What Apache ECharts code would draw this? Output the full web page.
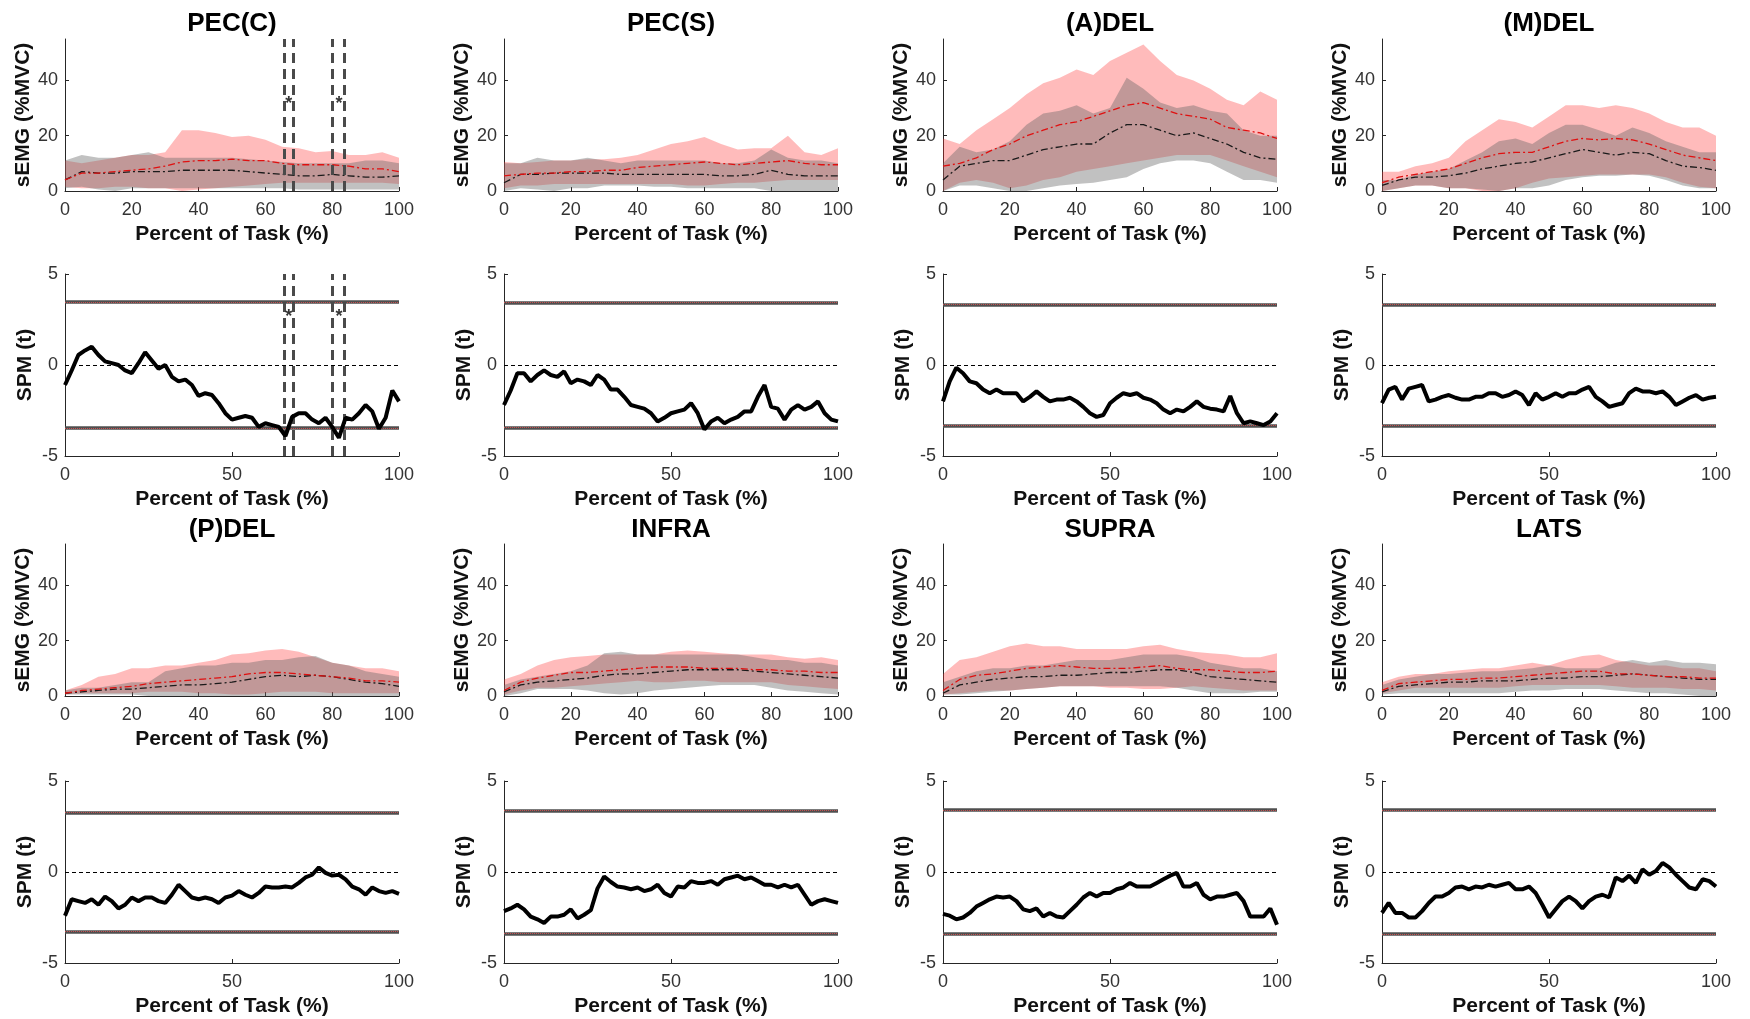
<!DOCTYPE html>
<html>
<head>
<meta charset="utf-8">
<script src="https://cdn.jsdelivr.net/npm/echarts@6/dist/echarts.min.js"></script>
<style>
  html, body { margin: 0; padding: 0; background: #fff; }
  #chart { width: 1750px; height: 1019px; }
</style>
</head>
<body>
<div id="chart"></div>
<script>
var muscles = ['PEC(C)', 'PEC(S)', '(A)DEL', '(M)DEL', '(P)DEL', 'INFRA', 'SUPRA', 'LATS'];

var pct5 = [0, 5, 10, 15, 20, 25, 30, 35, 40, 45, 50, 55, 60, 65, 70, 75, 80, 85, 90, 95, 100];
var pct2 = [0, 2, 4, 6, 8, 10, 12, 14, 16, 18, 20, 22, 24, 26, 28, 30, 32, 34, 36, 38, 40, 42, 44, 46, 48, 50,
            52, 54, 56, 58, 60, 62, 64, 66, 68, 70, 72, 74, 76, 78, 80, 82, 84, 86, 88, 90, 92, 94, 96, 98, 100];

// sEMG, red group (mean +/- sd)
var redHi = [
  [11, 10, 11, 12, 13, 13, 14, 22, 22, 21, 19.5, 20, 18.5, 16, 15.5, 14, 14.5, 13, 13, 14, 12],
  [10.5, 10, 10.5, 11, 11, 11.5, 11.5, 12, 13, 15, 17, 18, 19.5, 17, 15, 15.5, 15.5, 20, 14, 13, 15.5],
  [19, 17, 22, 26, 30, 35, 39, 41, 44, 42, 47, 50, 53, 47, 42, 40, 37, 33, 31, 36, 33],
  [7, 7, 9, 10, 12, 18, 22, 26, 25, 23, 27, 31, 31, 30, 31, 30, 28, 25, 23, 23, 20],
  [2, 4, 7, 8, 10, 10, 11, 11, 12, 13, 15, 15.5, 16.5, 17, 16, 14, 12, 11, 10, 10, 9],
  [6, 8, 11, 13, 14, 14.5, 15, 15, 15, 15, 16, 16.5, 16, 15.5, 15, 15, 15, 14, 13.5, 14, 13],
  [8, 13, 14, 16, 18, 19, 18, 18, 17, 17, 17, 17, 18, 18.5, 17, 16, 15.5, 15, 14, 14, 15.5],
  [5, 7, 8, 8, 9, 9.5, 10, 10, 11, 12, 11, 13, 14.5, 15, 13, 12, 11, 11, 10, 10, 9]
];
var redLo = [
  [1.5, 1, 1, 1.5, 1.5, 1, 1, 0, 0.5, 1, 1.5, 2, 2.5, 3, 3, 3, 3, 3, 3, 3, 2.5],
  [1, 2, 2, 2.5, 2.5, 2.5, 2.5, 2.5, 2.5, 2.5, 2.5, 2, 2, 2.5, 3, 3, 3.5, 4, 4, 4, 4],
  [0, 3, 4, 3, 1, 2, 4, 5, 7, 8, 9, 10, 11, 12, 13, 13, 13, 11, 9, 7, 5],
  [0, 1, 2, 2, 1, 1, 0, 0, 1, 3, 4.5, 5, 5.5, 6, 6, 6, 6, 5, 3, 1.5, 1],
  [0.5, 1, 1, 1, 1, 1.5, 1.5, 1.5, 1, 1, 0.5, 0.5, 1, 1.5, 1.5, 1.5, 1, 1, 1, 1, 1],
  [0.5, 2, 3, 3, 3.5, 4, 4.5, 5, 5.5, 5, 5, 5.5, 5.5, 5, 5, 5, 5, 4, 3.5, 3, 2.5],
  [0.5, 1, 1.5, 2, 2, 2.5, 3, 3.5, 3.5, 3.5, 3, 3, 2.5, 2.5, 3, 3.5, 3, 2.5, 2, 2, 2],
  [1, 2, 3, 3, 3, 3, 3, 3, 3.5, 4, 4, 4, 4, 4, 3.5, 3, 3, 3, 2.5, 2.5, 2]
];
var redMean = [
  [4, 6.5, 6.5, 7, 7.5, 8, 9, 10.5, 11, 11, 11.5, 11, 11, 10, 9.5, 9.5, 9.5, 9, 8, 8, 7],
  [5.5, 6, 6.5, 6.5, 7, 7, 7.5, 7.5, 8.5, 9, 9.5, 10, 10.5, 10, 9.5, 10, 10.5, 11, 10, 9.5, 9.5],
  [9, 10, 12, 15, 17, 20, 22, 24, 25, 27, 29, 31, 32, 30, 28, 27, 26, 23, 22, 21, 19],
  [3, 5, 6, 7, 8, 10, 12, 13.5, 14, 14, 16, 18, 19, 18.5, 19, 18.5, 17, 15, 13, 12, 11],
  [1, 2, 2.5, 3, 3.5, 4.5, 5, 5.5, 6, 6.5, 7, 8, 8.5, 8.5, 8, 7.5, 7, 6.5, 5.5, 5.5, 5],
  [2, 5, 6.5, 7.5, 8.5, 8.5, 9, 9.5, 10, 10.5, 10.5, 10.5, 10, 10, 10, 9.5, 9.5, 9, 9, 8.5, 8.5],
  [2, 6, 7.5, 8, 9, 10, 10.5, 11, 10.5, 10, 10, 10, 10.5, 11, 10, 9.5, 9.5, 9, 8.5, 8.5, 9],
  [2, 4.5, 5, 5.5, 6, 6, 6.5, 6.5, 7, 7.5, 8, 8.5, 9, 9, 8, 8, 7.5, 7, 7, 6.5, 6.5]
];

// sEMG, gray group (mean +/- sd)
var grayHi = [
  [11, 13, 12, 12, 13, 14, 12, 12, 12, 12, 12, 11.5, 11, 10.5, 10, 10, 10, 10, 11, 11, 10],
  [10, 10, 12, 11, 11, 12, 11, 10, 11, 11, 11, 11, 11, 10, 10, 11, 15, 12, 11, 11, 10],
  [10, 16, 14, 15, 18, 24, 28, 29, 31, 28, 30, 41, 37, 32, 30, 31, 29, 28, 22, 20, 20],
  [4, 4, 6, 7, 8, 11, 14, 18, 19, 17, 21, 24, 24, 22, 20, 23, 21, 18, 16, 14, 14],
  [2, 3, 3, 4, 5, 5, 9, 10, 11, 11, 12, 12, 13, 13, 14, 14.5, 12, 11, 9, 8, 7],
  [4, 6, 7, 8, 9, 11, 15.5, 16, 15, 15, 15, 15, 15, 15, 15, 14, 13, 13, 12, 12, 11],
  [5, 7, 9, 10, 10, 11, 11, 12, 13, 13, 13, 14, 15, 15, 15, 14, 12, 11, 10, 10, 9],
  [4, 6, 7, 8, 8, 8.5, 9, 9, 9.5, 10, 11, 10, 10, 10, 12, 13, 12, 13, 12, 12, 11.5]
];
var grayLo = [
  [1, 1.5, 0.5, 0, 1, 1, 1, 1, 1, 1, 1, 1, 1, 1, 0.5, 0.5, 0.5, 0.5, 0.5, 0.5, 0.5],
  [0, 1, 0.5, 0, 1, 1, 2, 2, 2, 1.5, 1.5, 1, 1, 1, 1, 1, 0, 0, 0, 0, 0],
  [0, 2, 2, 1, 0, 0, 1, 2, 2.5, 3, 4, 5, 8, 10, 11, 11, 10, 7, 4, 4, 3],
  [0, 1, 2, 2, 1, 1, 0.5, 0, 1, 1, 2, 4, 5, 5.5, 5.5, 6, 5.5, 4, 2, 1, 1],
  [0.5, 0.5, 0.5, 0.5, 0.5, 0, 0, 0, 0, 0, 0, 0, 0, 0, 0, 0, 0, 0, 0, 0, 0],
  [0, 1, 2.5, 2.5, 2.5, 2, 1, 0.5, 1, 2, 2.5, 3, 3.5, 4, 4, 4, 3, 2, 1.5, 1, 0.5],
  [0.5, 0.5, 1, 1.5, 2, 2.5, 3, 3.5, 3.5, 3.5, 3.5, 3.5, 3.5, 3.5, 3, 2, 1, 1, 1, 1.5, 1.5],
  [0.5, 1, 1, 1, 1, 1, 1, 1, 1.5, 2, 2, 2.5, 2.5, 2.5, 2, 1.5, 1, 1, 0.5, 0, 0]
];
var grayMean = [
  [4, 7, 6.5, 6.5, 7, 7, 7, 7.5, 7.5, 7.5, 7.5, 7, 6.5, 6, 5.5, 5.5, 6, 5.5, 5, 5, 5.5],
  [3, 6, 6, 6.5, 6.5, 6.5, 6.5, 6, 6, 6, 6, 6, 6, 5.5, 5.5, 6, 7.5, 6, 5.5, 5.5, 5.5],
  [4, 9, 10, 11, 11, 13, 15, 16, 17, 17, 21, 24, 24, 22, 20, 21, 19, 17, 14, 12, 11.5],
  [2, 4, 5, 5, 5.5, 6.5, 8, 9, 10, 10.5, 12, 13.5, 15, 14, 13, 14, 13.5, 11, 9, 8.5, 7.5],
  [1, 1.5, 2, 2.5, 2.5, 3, 3.5, 4, 4, 4.5, 5, 6, 7, 7.5, 7, 7.5, 7, 6, 5, 4.5, 3.5],
  [1.5, 4, 5, 5.5, 6, 6.5, 7.5, 8, 8, 8.5, 9, 9.5, 9.5, 9.5, 9.5, 9, 8.5, 8, 7.5, 7, 6.5],
  [1, 4, 5, 6, 6.5, 7, 7, 7.5, 7.5, 8, 8.5, 8.5, 9, 9.5, 9.5, 8.5, 7, 6.5, 6, 5.5, 5],
  [1.5, 3.5, 4, 4.5, 5, 5, 5.5, 5.5, 5.5, 6, 6.5, 6.5, 7, 7, 7.5, 8, 7.5, 7, 6.5, 6, 6]
];

// SPM t curves
var spmT = [
  [-1.1, -0.3, 0.55, 0.8, 1.0, 0.55, 0.2, 0.1, 0, -0.3, -0.45, 0.1, 0.7, 0.25, -0.2, 0, -0.65, -0.9, -0.8, -1.1,
   -1.7, -1.55, -1.65, -2.1, -2.65, -3.0, -2.9, -2.8, -2.9, -3.4, -3.2, -3.3, -3.4, -3.9, -2.85, -2.65, -2.65, -3.0,
   -3.2, -2.9, -3.4, -4.0, -2.9, -3.0, -2.65, -2.2, -2.55, -3.5, -2.9, -1.4, -2.0],
  [-2.2, -1.4, -0.45, -0.45, -0.9, -0.55, -0.3, -0.55, -0.65, -0.35, -1.0, -0.8, -0.9, -1.1, -0.55, -0.8, -1.35,
   -1.35, -1.75, -2.2, -2.3, -2.4, -2.65, -3.1, -2.9, -2.65, -2.55, -2.45, -2.1, -2.65, -3.55, -3.1, -2.9, -3.2,
   -3.0, -2.85, -2.55, -2.55, -1.75, -1.1, -2.3, -2.4, -3.0, -2.45, -2.2, -2.45, -2.3, -2.0, -2.65, -3.0, -3.1],
  [-2.0, -0.9, -0.15, -0.45, -0.9, -1.0, -1.35, -1.55, -1.35, -1.55, -1.55, -1.55, -2.0, -1.75, -1.45, -1.75, -2.0,
   -1.9, -1.9, -1.8, -2.0, -2.3, -2.65, -2.85, -2.75, -2.1, -1.8, -1.55, -1.65, -1.55, -1.8, -1.9, -2.1, -2.45,
   -2.65, -2.45, -2.55, -2.3, -2.0, -2.3, -2.4, -2.45, -2.55, -1.7, -2.65, -3.2, -3.1, -3.2, -3.3, -3.1, -2.65],
  [-2.1, -1.35, -1.2, -1.9, -1.3, -1.2, -1.1, -2.0, -1.9, -1.75, -1.65, -1.8, -1.9, -1.9, -1.75, -1.75, -1.55,
   -1.55, -1.75, -1.65, -1.45, -1.65, -2.2, -1.55, -1.9, -1.75, -1.55, -1.75, -1.55, -1.55, -1.35, -1.2, -1.75,
   -2.0, -2.3, -2.2, -2.1, -1.55, -1.3, -1.45, -1.45, -1.55, -1.45, -1.75, -2.2, -2.0, -1.8, -1.65, -1.9, -1.8, -1.75],
  [-2.4, -1.5, -1.6, -1.7, -1.5, -1.8, -1.35, -1.6, -2.0, -1.8, -1.4, -1.6, -1.4, -1.4, -1.6, -1.7, -1.25, -0.7,
   -1.05, -1.4, -1.5, -1.4, -1.5, -1.7, -1.4, -1.3, -1.05, -1.25, -1.4, -1.15, -0.8, -0.85, -0.85, -0.8, -0.85,
   -0.6, -0.3, -0.15, 0.25, -0.05, -0.2, -0.15, -0.4, -0.8, -0.95, -1.25, -0.85, -1.05, -1.15, -1.05, -1.2],
  [-2.15, -2.0, -1.8, -2.05, -2.45, -2.6, -2.8, -2.45, -2.45, -2.35, -2.05, -2.55, -2.35, -2.1, -0.9, -0.25, -0.55,
   -0.8, -0.85, -0.95, -0.85, -1.05, -0.95, -0.7, -1.15, -1.35, -0.8, -0.85, -0.5, -0.6, -0.6, -0.5, -0.7, -0.4,
   -0.3, -0.2, -0.4, -0.3, -0.5, -0.7, -0.7, -0.85, -0.7, -0.85, -0.7, -1.25, -1.8, -1.6, -1.5, -1.6, -1.7],
  [-2.3, -2.4, -2.6, -2.5, -2.25, -1.9, -1.7, -1.5, -1.35, -1.4, -1.35, -1.6, -2.05, -2.15, -2.0, -2.45, -2.25,
   -2.45, -2.5, -2.15, -1.8, -1.4, -1.15, -1.35, -1.15, -1.15, -0.95, -0.85, -0.6, -0.8, -0.8, -0.8, -0.6, -0.4,
   -0.2, -0.05, -0.8, -0.8, -0.6, -1.25, -1.5, -1.35, -1.35, -1.25, -1.15, -1.6, -2.45, -2.45, -2.45, -2.0, -2.9],
  [-2.25, -1.7, -2.25, -2.25, -2.5, -2.5, -2.15, -1.7, -1.35, -1.35, -1.15, -0.85, -0.8, -0.95, -0.8, -0.85, -0.7,
   -0.8, -0.7, -0.6, -0.95, -0.95, -0.8, -1.15, -1.8, -2.5, -2.05, -1.6, -1.35, -1.6, -2.0, -1.6, -1.35, -1.25,
   -1.4, -0.3, -0.5, -0.2, -0.6, 0.15, -0.15, 0.05, 0.5, 0.25, -0.15, -0.5, -0.85, -0.95, -0.4, -0.5, -0.8]
];
var thresholds = [3.45, 3.43, 3.33, 3.33, 3.28, 3.38, 3.41, 3.41];

// PEC(C) significant clusters
var sigEdges = [65.7, 68.4, 80.1, 83.5];
var sigStars = [67, 82];
var starEmgY = 31.5;
var starSpmY = 2.65;

var FONT = '"Liberation Sans", Arial, Helvetica, sans-serif';
var AXIS = '#262626';
var PINK = 'rgba(255, 50, 50, 0.33)';
var GRAY = 'rgba(100, 100, 100, 0.40)';

var colLeft = [65, 504, 943, 1382];
var plotW = 334;
var emgTop = [39, 544], emgH = 152;
var spmTop = [274, 781], spmH = 182;
var titleY = [24, 530];

function pairs(xs, ys) {
  return xs.map(function (x, i) { return [x, ys[i]]; });
}

function makeX(gi, step) {
  return {
    type: 'value', gridIndex: gi, min: 0, max: 100, interval: step,
    name: 'Percent of Task (%)', nameLocation: 'middle', nameGap: 33,
    nameTextStyle: { fontSize: 21, fontWeight: 'bold', color: '#111', fontFamily: FONT, verticalAlign: 'top' },
    axisLine: { show: true, onZero: false, lineStyle: { color: AXIS, width: 1 } },
    axisTick: { show: true, inside: true, length: 4, lineStyle: { color: AXIS } },
    axisLabel: { fontSize: 18, color: '#333', margin: 10, fontFamily: FONT },
    splitLine: { show: false }
  };
}

function makeY(gi, lo, hi, name, ticks) {
  return {
    type: 'value', gridIndex: gi, min: lo, max: hi,
    name: name, nameLocation: 'middle', nameGap: 29,
    nameTextStyle: { fontSize: 21, fontWeight: 'bold', color: '#111', fontFamily: FONT },
    axisLine: { show: true, onZero: false, lineStyle: { color: AXIS, width: 1 } },
    axisTick: { show: true, inside: true, length: 4, customValues: ticks, lineStyle: { color: AXIS } },
    axisLabel: { fontSize: 18, color: '#333', margin: 7, fontFamily: FONT, customValues: ticks },
    splitLine: { show: false }
  };
}

// filled band between lo and hi, drawn as one polygon through the axis scales
function band(gi, lo, hi, color) {
  return {
    type: 'custom', xAxisIndex: gi, yAxisIndex: gi, silent: true, z: 2,
    encode: { x: 0, y: [1, 2] },
    data: pct5.map(function (x, i) { return [x, lo[i], hi[i]]; }),
    renderItem: function (params, api) {
      if (params.dataIndex !== 0) return null;
      var pts = [], i;
      for (i = 0; i < pct5.length; i++) pts.push(api.coord([pct5[i], hi[i]]));
      for (i = pct5.length - 1; i >= 0; i--) pts.push(api.coord([pct5[i], lo[i]]));
      return { type: 'polygon', shape: { points: pts }, style: { fill: color } };
    }
  };
}

function meanLine(gi, ys, color) {
  return { type: 'line', xAxisIndex: gi, yAxisIndex: gi, symbol: 'none', silent: true, z: 4,
    lineStyle: { color: color, width: 1.3, type: [7, 3, 2, 3] }, data: pairs(pct5, ys) };
}

function sigSeries(gi, y) {
  return {
    type: 'scatter', xAxisIndex: gi, yAxisIndex: gi, symbolSize: 1, silent: true, z: 6,
    itemStyle: { color: 'rgba(0,0,0,0)' },
    label: { show: true, position: 'inside', formatter: '*', fontSize: 18, fontWeight: 'bold', color: '#000', fontFamily: FONT },
    data: sigStars.map(function (x) { return [x, y]; }),
    markLine: {
      silent: true, symbol: ['none', 'none'], label: { show: false },
      lineStyle: { color: '#4a4a4a', width: 3, type: [10, 6] },
      data: sigEdges.map(function (x) { return { xAxis: x }; })
    }
  };
}

var grids = [], xAxes = [], yAxes = [], series = [], graphics = [];

muscles.forEach(function (name, m) {
  var r = Math.floor(m / 4), c = m % 4;
  var gE = 2 * m, gS = 2 * m + 1;
  grids.push({ left: colLeft[c], top: emgTop[r], width: plotW, height: emgH });
  grids.push({ left: colLeft[c], top: spmTop[r], width: plotW, height: spmH });
  xAxes.push(makeX(gE, 20));
  xAxes.push(makeX(gS, 50));
  yAxes.push(makeY(gE, 0, 55, 'sEMG (%MVC)', [0, 20, 40]));
  yAxes.push(makeY(gS, -5, 5, 'SPM (t)', [-5, 0, 5]));

  series.push(band(gE, redLo[m], redHi[m], PINK));
  series.push(band(gE, grayLo[m], grayHi[m], GRAY));
  series.push(meanLine(gE, grayMean[m], '#1a1a1a'));
  series.push(meanLine(gE, redMean[m], '#e01010'));

  var t = thresholds[m];
  series.push({
    type: 'line', xAxisIndex: gS, yAxisIndex: gS, symbol: 'none', silent: true, z: 5,
    lineStyle: { color: '#000', width: 4 }, data: pairs(pct2, spmT[m]),
    markLine: {
      silent: true, symbol: ['none', 'none'], label: { show: false }, z: 3,
      data: [
        { yAxis: t, lineStyle: { color: '#4f4f4f', width: 3.5, type: 'solid' } },
        { yAxis: t, lineStyle: { color: '#c85050', width: 1, type: 'dotted' } },
        { yAxis: -t, lineStyle: { color: '#4f4f4f', width: 3.5, type: 'solid' } },
        { yAxis: -t, lineStyle: { color: '#c85050', width: 1, type: 'dotted' } },
        { yAxis: 0, lineStyle: { color: '#000', width: 1, type: [4, 3] } }
      ]
    }
  });

  graphics.push({
    type: 'text', x: colLeft[c] + plotW / 2, y: titleY[r],
    style: { text: name, fontSize: 26, fontWeight: 'bold', fontFamily: FONT, fill: '#000',
             align: 'center', verticalAlign: 'middle' }
  });
});

// significance markers only on PEC(C)
series.push(sigSeries(0, starEmgY));
series.push(sigSeries(1, starSpmY));

var chart = echarts.init(document.getElementById('chart'), null, { renderer: 'canvas' });
chart.setOption({
  animation: false,
  backgroundColor: '#fff',
  grid: grids,
  xAxis: xAxes,
  yAxis: yAxes,
  series: series,
  graphic: graphics
});
window.addEventListener('resize', function () { chart.resize(); });
</script>
</body>
</html>
